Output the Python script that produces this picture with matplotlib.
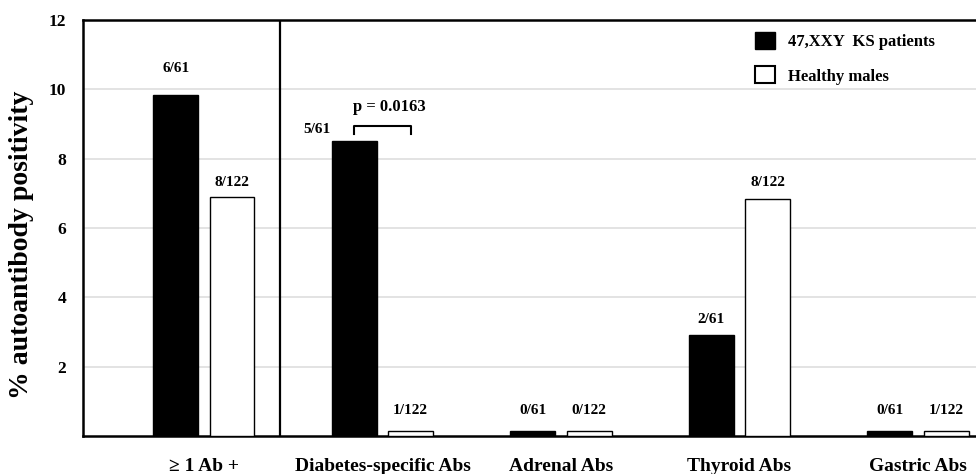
import numpy as np
import matplotlib
matplotlib.use('Agg')
import matplotlib.pyplot as plt
from matplotlib.patches import Patch

plt.rcParams['font.family'] = ['Liberation Serif', 'DejaVu Serif']
plt.rcParams['font.weight'] = 'bold'

categories = ['\u2265 1 Ab +', 'Diabetes-specific Abs', 'Adrenal Abs', 'Thyroid Abs', 'Gastric Abs']
ks_values = [9.84, 8.52, 0.15, 2.91, 0.15]
healthy_values = [6.88, 0.15, 0.15, 6.85, 0.15]
ks_counts = ['6/61', '5/61', '0/61', '2/61', '0/61']
healthy_counts = ['8/122', '1/122', '0/122', '8/122', '1/122']
series_names = ['47,XXY  KS patients', 'Healthy males']
p_text = 'p = 0.0163'
yticks = [2, 4, 6, 8, 10, 12]

fig = plt.figure(figsize=(9.76, 4.74), dpi=100)
ax = fig.add_axes([0.085, 0.080, 0.915, 0.878])

x = np.arange(len(categories))
w = 0.252
off = 0.157
ax.bar(x - off, ks_values, w, color='black', edgecolor='black', linewidth=1, zorder=3)
ax.bar(x + off, healthy_values, w, color='white', edgecolor='black', linewidth=1, zorder=3)

# count labels (centre offsets above bar tops)
ks_dx = [0, -0.21, 0, 0, 0]
ks_dy = [0.77, 0.33, 0.6, 0.44, 0.6]
hm_dy = [0.42, 0.6, 0.6, 0.45, 0.6]
for i in range(len(x)):
    ax.text(x[i] - off + ks_dx[i], ks_values[i] + ks_dy[i], ks_counts[i],
            ha='center', va='center', fontsize=11, fontweight='bold')
    ax.text(x[i] + off, healthy_values[i] + hm_dy[i], healthy_counts[i],
            ha='center', va='center', fontsize=11, fontweight='bold')

# p-value bracket between the diabetes bars
bx0, bx1 = x[1] - off, x[1] + off
by = 8.95
ax.plot([bx0, bx0, bx1, bx1], [by - 0.25, by, by, by - 0.25], color='black', lw=1.5, zorder=4)
ax.text((bx0 + bx1) / 2 + 0.04, by + 0.55, p_text, ha='center', va='center', fontsize=12, fontweight='bold')

# divider between overall and single antibodies
ax.axvline(0.426, color='black', lw=1.6, zorder=4)

ax.set_xlim(-0.678, 4.325)
ax.set_ylim(0, 12)
ax.set_yticks(yticks)
ax.set_yticklabels([str(v) for v in yticks], fontsize=12.5, fontweight='bold')
ax.set_xticks(x)
ax.set_xticklabels(categories, fontsize=14, fontweight='bold')
ax.tick_params(axis='y', length=0, pad=12)
ax.tick_params(axis='x', length=0, pad=16)
ax.yaxis.grid(True, color='#dedede', lw=1.2, zorder=0)
ax.set_axisbelow(True)

ax.spines['right'].set_visible(False)
for s in ['left', 'top', 'bottom']:
    ax.spines[s].set_linewidth(1.8)

ax.set_ylabel('% autoantibody positivity', fontsize=20, fontweight='bold')
ax.yaxis.set_label_coords(-0.055, 0.459)

handles = [Patch(facecolor='black', edgecolor='black'),
           Patch(facecolor='white', edgecolor='black', linewidth=1.5)]
ax.legend(handles, series_names, loc='upper left', bbox_to_anchor=(0.7525, 0.972),
          frameon=False, handlelength=1.2, handleheight=1.2, borderpad=0, borderaxespad=0,
          labelspacing=1.0, handletextpad=0.8, prop={'weight': 'bold', 'size': 12})

fig.savefig('out.png', dpi=100)
